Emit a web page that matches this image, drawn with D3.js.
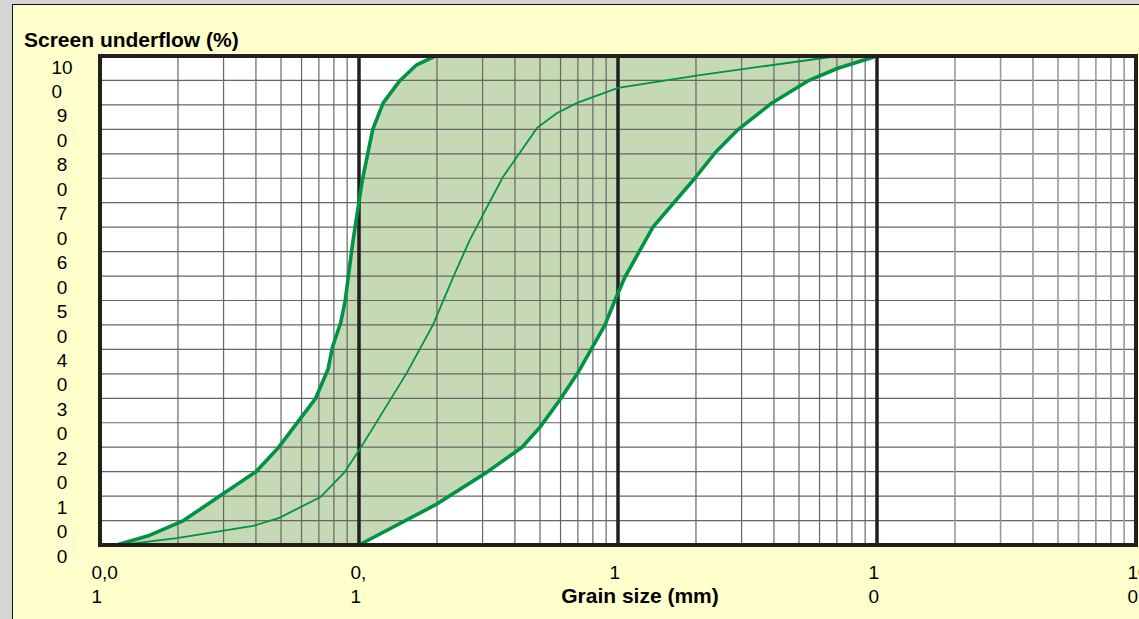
<!DOCTYPE html>
<html>
<head>
<meta charset="utf-8">
<script src="https://cdn.jsdelivr.net/npm/d3@7"></script>
<style>
  body { margin: 0; }
  svg { display: block; font-family: "Liberation Sans", Arial, sans-serif; }
</style>
</head>
<body>
<div class="canvas"></div>
<script>
// grading band: fine limit, typical curve, coarse limit (grain size in mm, passing in %)
const fineSize = [0.0116, 0.0156, 0.021, 0.029, 0.04, 0.049, 0.068, 0.076, 0.079, 0.085, 0.0885, 0.092, 0.095, 0.103, 0.113, 0.124, 0.144, 0.167, 0.197];
const finePass = [0, 2, 5, 10, 15, 20, 30, 36, 40.5, 45.5, 50, 57, 62.5, 74.6, 85, 90.4, 95, 98.2, 100];

const midSize = [0.012, 0.0198, 0.039, 0.049, 0.071, 0.088, 0.1, 0.106, 0.153, 0.193, 0.231, 0.268, 0.312, 0.36, 0.487, 0.58, 0.695, 1.0, 2.07, 7.06];
const midPass = [0, 1.4, 3.9, 5.5, 9.8, 14.9, 19.4, 21.5, 35.2, 45, 54.8, 62.4, 69.1, 75.3, 85.3, 88.3, 90.4, 93.5, 96.1, 100];

const coarseSize = [0.1, 0.197, 0.312, 0.426, 0.5, 0.597, 0.70, 0.891, 0.974, 1.064, 1.364, 1.98, 2.37, 2.9, 3.93, 5.41, 7.06, 10];
const coarsePass = [0, 8.2, 14.9, 20, 24.1, 29.7, 35.2, 45, 50.1, 54.8, 65, 75, 80.2, 84.9, 90.4, 94.9, 97.5, 100];

// tick labels as they appear (wrapped)
const xTickValues = [0.01, 0.1, 1, 10, 100];
const xTickLabels = ['0,0\n1', '0,\n1', '1', '1\n0', '10\n0'];
const yTickValues = [0, 10, 20, 30, 40, 50, 60, 70, 80, 90, 100];
const yTickLabels = ['0', '1\n0', '2\n0', '3\n0', '4\n0', '5\n0', '6\n0', '7\n0', '8\n0', '9\n0', '10\n0'];

const width = 1139;
const height = 619;
const margin = { top: 56, right: 3, bottom: 74, left: 100 };

const svg = d3.select('.canvas').append('svg')
  .attr('width', width)
  .attr('height', height);

// outer frame
svg.append('rect').attr('width', width).attr('height', height).attr('fill', '#d6d6d6');
svg.append('rect')
  .attr('x', 12.5).attr('y', 4.5)
  .attr('width', width).attr('height', height)
  .attr('fill', '#ffffcc')
  .attr('stroke', '#111').attr('stroke-width', 1);

const x = d3.scaleLog()
  .domain([0.01, 100])
  .range([margin.left, width - margin.right]);

const y = d3.scaleLinear()
  .domain([0, 100])
  .range([height - margin.bottom, margin.top]);

const x0 = x.range()[0], x1 = x.range()[1];
const yTop = y(100), yBot = y(0);

// plot background
svg.append('rect')
  .attr('x', x0).attr('y', yTop)
  .attr('width', x1 - x0).attr('height', yBot - yTop)
  .attr('fill', '#fff');

const toPoints = (sizes, pass) => sizes.map((s, i) => ({ size: s, pass: pass[i] }));
const fine = toPoints(fineSize, finePass);
const mid = toPoints(midSize, midPass);
const coarse = toPoints(coarseSize, coarsePass);

const line = d3.line()
  .x(d => x(d.size))
  .y(d => y(d.pass));

// band between fine and coarse limits
svg.append('path')
  .attr('d', line(fine.concat(coarse.slice().reverse())) + 'Z')
  .attr('fill', '#c5d9b4');

// grid
const grid = svg.append('g');
grid.selectAll('line.h')
  .data(y.ticks(20))
  .enter().append('line')
  .attr('x1', x0).attr('x2', x1)
  .attr('y1', d => y(d)).attr('y2', d => y(d))
  .attr('stroke', '#666').attr('stroke-width', 1.2);

const minor = x.ticks().filter(d => xTickValues.indexOf(d) < 0);
grid.selectAll('line.v')
  .data(minor)
  .enter().append('line')
  .attr('x1', d => x(d)).attr('x2', d => x(d))
  .attr('y1', yTop).attr('y2', yBot)
  .attr('stroke', d => d > 10 ? '#999' : '#666')
  .attr('stroke-width', d => d > 10 ? 1.6 : 1.2);

grid.selectAll('line.major')
  .data(xTickValues.slice(1, -1))
  .enter().append('line')
  .attr('x1', d => x(d)).attr('x2', d => x(d))
  .attr('y1', yTop).attr('y2', yBot)
  .attr('stroke', '#231f20').attr('stroke-width', 3.5);

// curves
svg.append('path').attr('d', line(mid))
  .attr('fill', 'none').attr('stroke', '#009245').attr('stroke-width', 1.8);
[fine, coarse].forEach(c => {
  svg.append('path').attr('d', line(c))
    .attr('fill', 'none').attr('stroke', '#009245').attr('stroke-width', 3.6)
    .attr('stroke-linejoin', 'round');
});

// plot border
svg.append('rect')
  .attr('x', x0).attr('y', yTop)
  .attr('width', x1 - x0).attr('height', yBot - yTop)
  .attr('fill', 'none')
  .attr('stroke', '#231f20').attr('stroke-width', 4);

// axes
const xAxisGroup = svg.append('g').attr('transform', `translate(0, ${yBot})`);
const yAxisGroup = svg.append('g');

const xAxis = d3.axisBottom(x).tickValues(xTickValues).tickSize(0).tickFormat((d, i) => xTickLabels[i]);
const yAxis = d3.axisLeft(y).tickValues(yTickValues).tickSize(0).tickFormat((d, i) => yTickLabels[i]);

xAxisGroup.call(xAxis);
yAxisGroup.call(yAxis);
[xAxisGroup, yAxisGroup].forEach(g => {
  g.select('.domain').remove();
  g.attr('font-family', null).attr('font-size', 19);
  g.selectAll('.tick text').attr('fill', '#000');
});

// wrapped x labels
xAxisGroup.selectAll('.tick text').each(function (d, i) {
  const t = d3.select(this);
  const lines = xTickLabels[i].split('\n');
  t.text(null).attr('text-anchor', 'start').attr('dy', null).attr('y', null);
  lines.forEach((l, j) => {
    t.append('tspan').attr('x', -9).attr('y', 34 + j * 24).text(l);
  });
});

// wrapped y labels
yAxisGroup.selectAll('.tick text').each(function (d, i) {
  const t = d3.select(this);
  const lines = yTickLabels[i].split('\n');
  t.text(null).attr('text-anchor', 'start').attr('dy', null).attr('x', null);
  const first = t.append('tspan').attr('y', 17).text(lines[0]);
  const left = 62 - first.node().getComputedTextLength() / 2;
  first.attr('x', left);
  lines.slice(1).forEach((l, j) => {
    t.append('tspan').attr('x', left).attr('y', 17 + (j + 1) * 24.5).text(l);
  });
});

// titles
svg.append('text')
  .attr('x', 24).attr('y', 47)
  .attr('font-size', 21).attr('font-weight', 'bold')
  .text('Screen underflow (%)');

svg.append('text')
  .attr('x', 640).attr('y', 603)
  .attr('text-anchor', 'middle')
  .attr('font-size', 21).attr('font-weight', 'bold')
  .text('Grain size (mm)');
</script>
</body>
</html>
